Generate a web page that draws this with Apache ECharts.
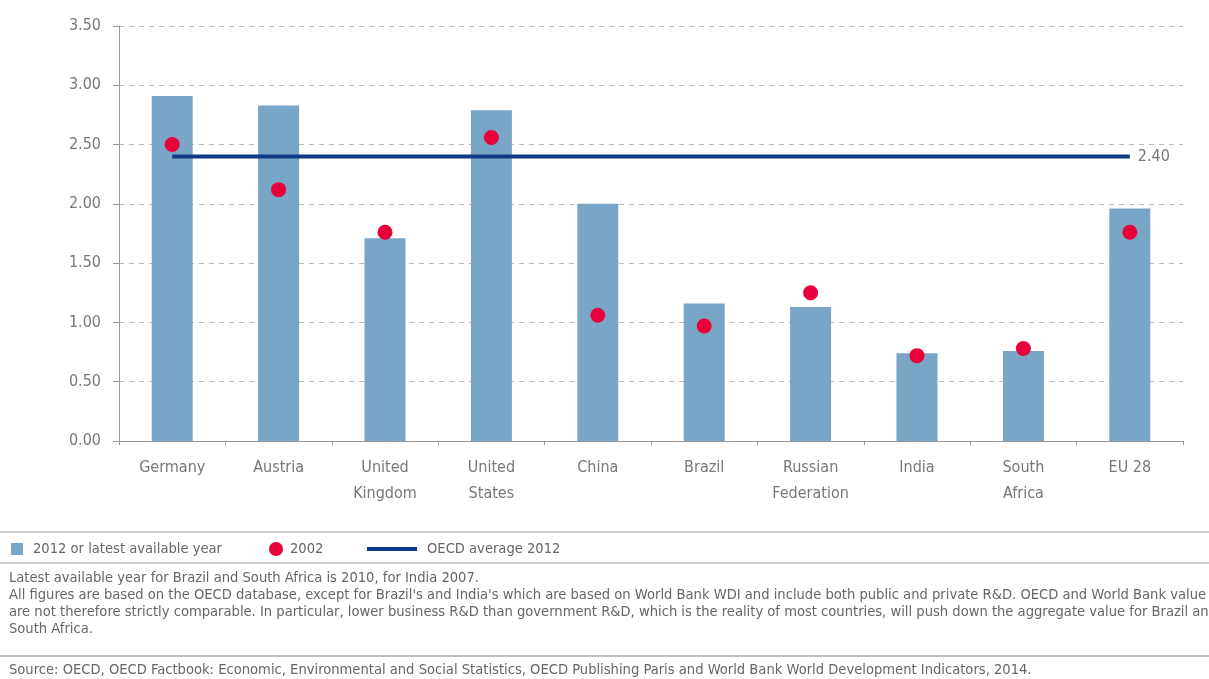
<!DOCTYPE html>
<html><head><meta charset="utf-8">
<script src="https://cdn.jsdelivr.net/npm/echarts@6/dist/echarts.min.js"></script>
<style>html,body{margin:0;padding:0;background:#fff}#c{width:1209px;height:679px}</style>
</head><body><div id="c"></div>
<script>
const categories = ['Germany','Austria','United\nKingdom','United\nStates','China','Brazil','Russian\nFederation','India','South\nAfrica','EU 28'];
const latest = [2.91, 2.83, 1.71, 2.79, 2.00, 1.16, 1.13, 0.74, 0.76, 1.96];
const y2002 = [2.50, 2.12, 1.76, 2.56, 1.06, 0.97, 1.25, 0.72, 0.78, 1.76];
const oecdAvg = [2.40, 2.40, 2.40, 2.40, 2.40, 2.40, 2.40, 2.40, 2.40, 2.40];
const seriesNames = ['2012 or latest available year', '2002', 'OECD average 2012'];
const notes = [
  'Latest available year for Brazil and South Africa is 2010, for India 2007.',
  "All figures are based on the OECD database, except for Brazil's and India's which are based on World Bank WDI and include both public and private R&D. OECD and World Bank value",
  'are not therefore strictly comparable. In particular, lower business R&D than government R&D, which is the reality of most countries, will push down the aggregate value for Brazil and',
  'South Africa.'
];
const source = 'Source: OECD, OECD Factbook: Economic, Environmental and Social Statistics, OECD Publishing Paris and World Bank World Development Indicators, 2014.';

const FONT = '"DejaVu Sans Condensed", "Liberation Sans Narrow", sans-serif';
const BAR = '#79A6C6', DOT = '#E8003A', LINE = '#0E3A86';
const chart = echarts.init(document.getElementById('c'));
const lg = '14.6px ' + FONT;
const graphics = [
  {type:'line', shape:{x1:0,y1:532,x2:1209,y2:532}, style:{stroke:'#bbb', lineWidth:1.5}},
  {type:'line', shape:{x1:0,y1:563,x2:1209,y2:563}, style:{stroke:'#bbb', lineWidth:1.5}},
  {type:'line', shape:{x1:0,y1:656,x2:1209,y2:656}, style:{stroke:'#aaa', lineWidth:1.5}},
  {type:'rect', shape:{x:11,y:543,width:12,height:12}, style:{fill:BAR}},
  {type:'text', x:33, y:549, style:{text:seriesNames[0], fill:'#666', font:lg, textVerticalAlign:'middle'}},
  {type:'circle', shape:{cx:276,cy:549,r:7}, style:{fill:DOT}},
  {type:'text', x:290, y:549, style:{text:seriesNames[1], fill:'#666', font:lg, textVerticalAlign:'middle'}},
  {type:'rect', shape:{x:367,y:547,width:50,height:4}, style:{fill:LINE}},
  {type:'text', x:427, y:549, style:{text:seriesNames[2], fill:'#666', font:lg, textVerticalAlign:'middle'}}
];
notes.forEach((t,i)=>graphics.push({type:'text', left:9, top:571+i*17, style:{text:t, fill:'#666', font:lg}}));
graphics.push({type:'text', left:9, top:663, style:{text:source, fill:'#666', font:lg}});

chart.setOption({
  animation:false,
  textStyle:{fontFamily:FONT},
  grid:{left:119, right:26, top:26, bottom:238},
  xAxis:{
    type:'category', data:categories,
    axisLine:{lineStyle:{color:'#999'}},
    axisTick:{show:true, length:4, lineStyle:{color:'#999'}},
    axisLabel:{color:'#777', fontSize:16, lineHeight:26, margin:14, fontFamily:FONT}
  },
  yAxis:{
    type:'value', min:0, max:3.5, interval:0.5,
    axisLine:{show:true, lineStyle:{color:'#999'}},
    axisTick:{show:true, length:6, lineStyle:{color:'#999'}},
    axisLabel:{color:'#777', fontSize:16, margin:18, fontFamily:FONT, formatter:v=>v.toFixed(2)},
    splitLine:{lineStyle:{color:'#bbb', type:[5,5]}}
  },
  series:[
    {name:seriesNames[0], type:'bar', data:latest, barWidth:41, itemStyle:{color:BAR}},
    {name:seriesNames[2], type:'line', data:oecdAvg, symbol:'none',
     lineStyle:{color:LINE, width:4}, itemStyle:{color:LINE},
     endLabel:{show:true, formatter:p=>p.value.toFixed(2), color:'#777', fontSize:16, distance:8, fontFamily:FONT}},
    {name:seriesNames[1], type:'scatter', data:y2002, symbolSize:15, z:5, itemStyle:{color:DOT, opacity:1}}
  ],
  graphic:graphics
});
</script></body></html>
